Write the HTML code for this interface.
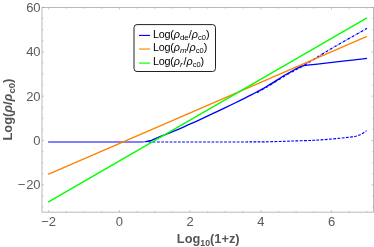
<!DOCTYPE html>
<html><head><meta charset="utf-8"><title>plot</title>
<style>
html,body{margin:0;padding:0;background:#fff;}
body{width:374px;height:247px;overflow:hidden;}
svg{display:block;will-change:transform;font-family:"Liberation Sans",sans-serif;}
</style></head><body>
<svg width="374" height="247" viewBox="0 0 374 247">
<rect width="374" height="247" fill="#fff"/>
<g>
<path d="M148.50 142.00C151.25 142.00 159.75 142.00 165.00 142.00C170.25 142.00 175.00 142.00 180.00 142.00C185.00 142.00 190.00 142.00 195.00 142.00C200.00 142.00 205.00 142.00 210.00 142.00C215.00 142.00 220.00 142.00 225.00 142.00C230.00 142.00 235.33 141.98 240.00 141.97C244.67 141.96 248.83 141.95 253.00 141.93C257.17 141.91 260.50 141.93 265.00 141.85C269.50 141.77 275.17 141.60 280.00 141.45C284.83 141.30 289.00 141.12 294.00 140.95C299.00 140.78 305.67 140.62 310.00 140.45C314.33 140.28 315.00 140.32 320.00 139.95C325.00 139.57 334.67 138.71 340.00 138.20C345.33 137.69 349.33 137.23 352.00 136.90C354.67 136.57 354.75 136.52 356.00 136.20C357.25 135.88 358.33 135.50 359.50 135.00C360.67 134.50 361.82 133.93 363.00 133.20C364.18 132.47 366.00 131.03 366.60 130.60" stroke="#0000ff" stroke-width="1.15" fill="none" stroke-dasharray="2.8 1.4"/>
<path d="M257.00 92.60C258.73 91.62 262.73 89.50 267.40 86.70C272.07 83.90 280.23 78.63 285.00 75.80C289.77 72.97 293.17 71.25 296.00 69.70C298.83 68.15 298.95 68.28 302.00 66.50C305.05 64.72 308.80 62.33 314.30 59.00C319.80 55.67 326.22 51.60 335.00 46.50C343.78 41.40 361.67 31.42 367.00 28.40" stroke="#0000ff" stroke-width="1.25" fill="none" stroke-dasharray="2.7 0.9 0.5 0.9"/>
<path d="M48.10 142.00L139.00 142.00L142.00 141.95L145.00 141.75L147.20 141.42" stroke="#0000ff" stroke-width="1.15" fill="none"/>
<path d="M146.50 141.55C146.75 141.50 147.42 141.38 148.00 141.25C148.58 141.12 149.33 140.95 150.00 140.75C150.67 140.55 151.00 140.44 152.00 140.05C153.00 139.66 154.67 138.96 156.00 138.40C157.33 137.84 158.33 137.38 160.00 136.70C161.67 136.02 163.50 135.30 166.00 134.30C168.50 133.30 171.50 132.18 175.00 130.70C178.50 129.22 182.83 127.25 187.00 125.40C191.17 123.55 195.00 121.90 200.00 119.60C205.00 117.30 211.17 114.37 217.00 111.60C222.83 108.83 229.30 105.78 235.00 103.00C240.70 100.22 245.80 97.73 251.20 94.90C256.60 92.07 261.77 89.32 267.40 86.00C273.03 82.68 280.23 77.85 285.00 75.00C289.77 72.15 293.20 70.40 296.00 68.90C298.80 67.40 300.83 66.48 301.80 66.00L301.80 66.00C302.17 65.92 303.13 65.68 304.00 65.55C304.87 65.42 304.77 65.44 307.00 65.20C309.23 64.96 313.57 64.53 317.40 64.10C321.23 63.67 325.40 63.13 330.00 62.60C334.60 62.07 338.83 61.60 345.00 60.90C351.17 60.20 363.33 58.82 367.00 58.40" stroke="#0000ff" stroke-width="1.35" fill="none" stroke-linejoin="round"/>
<path d="M48.10 174.49L367.00 36.34" stroke="#ff8000" stroke-width="1.35" fill="none"/>
<path d="M48.10 202.10L367.00 17.90" stroke="#00ff00" stroke-width="1.35" fill="none"/>
</g>
<!-- frame -->
<rect x="42.0" y="7.5" width="331.5" height="204.65" fill="none" stroke="#a8a8a8" stroke-width="0.8"/>
<path d="M48.70 212.15v-2.0M48.70 7.5v2.0M66.38 212.15v-1.2M66.38 7.5v1.2M84.05 212.15v-1.2M84.05 7.5v1.2M101.73 212.15v-1.2M101.73 7.5v1.2M119.40 212.15v-2.0M119.40 7.5v2.0M137.08 212.15v-1.2M137.08 7.5v1.2M154.75 212.15v-1.2M154.75 7.5v1.2M172.43 212.15v-1.2M172.43 7.5v1.2M190.10 212.15v-2.0M190.10 7.5v2.0M207.78 212.15v-1.2M207.78 7.5v1.2M225.45 212.15v-1.2M225.45 7.5v1.2M243.12 212.15v-1.2M243.12 7.5v1.2M260.80 212.15v-2.0M260.80 7.5v2.0M278.48 212.15v-1.2M278.48 7.5v1.2M296.15 212.15v-1.2M296.15 7.5v1.2M313.83 212.15v-1.2M313.83 7.5v1.2M331.50 212.15v-2.0M331.50 7.5v2.0M349.18 212.15v-1.2M349.18 7.5v1.2M366.85 212.15v-1.2M366.85 7.5v1.2M42.0 207.01h1.2M373.5 207.01h-1.2M42.0 195.93h1.2M373.5 195.93h-1.2M42.0 184.84h2.0M373.5 184.84h-2.0M42.0 173.75h1.2M373.5 173.75h-1.2M42.0 162.67h1.2M373.5 162.67h-1.2M42.0 151.59h1.2M373.5 151.59h-1.2M42.0 140.50h2.0M373.5 140.50h-2.0M42.0 129.41h1.2M373.5 129.41h-1.2M42.0 118.33h1.2M373.5 118.33h-1.2M42.0 107.25h1.2M373.5 107.25h-1.2M42.0 96.16h2.0M373.5 96.16h-2.0M42.0 85.07h1.2M373.5 85.07h-1.2M42.0 73.99h1.2M373.5 73.99h-1.2M42.0 62.91h1.2M373.5 62.91h-1.2M42.0 51.82h2.0M373.5 51.82h-2.0M42.0 40.73h1.2M373.5 40.73h-1.2M42.0 29.65h1.2M373.5 29.65h-1.2M42.0 18.56h1.2M373.5 18.56h-1.2M42.0 7.48h2.0M373.5 7.48h-2.0" stroke="#a0a0a0" stroke-width="0.6" fill="none"/>
<g font-size="13.0" fill="#5a5a5a"><text x="48.70" y="225.6" text-anchor="middle">−2</text><text x="119.40" y="225.6" text-anchor="middle">0</text><text x="190.10" y="225.6" text-anchor="middle">2</text><text x="260.80" y="225.6" text-anchor="middle">4</text><text x="331.50" y="225.6" text-anchor="middle">6</text><text x="40.6" y="189.34" text-anchor="end">−<tspan dx="0.9">20</tspan></text><text x="40.6" y="145.00" text-anchor="end">0</text><text x="40.6" y="100.66" text-anchor="end">20</text><text x="40.6" y="56.32" text-anchor="end">40</text><text x="40.6" y="11.98" text-anchor="end">60</text></g>
<!-- axis labels -->
<text x="208.2" y="243.3" text-anchor="middle" font-size="12.8" font-weight="bold" fill="#555">Log<tspan font-size="8.8" dy="2.2">10</tspan><tspan dy="-2.2">(1+z)</tspan></text>
<text transform="translate(12.4 109.6) rotate(-90)" text-anchor="middle" font-size="12.85" font-weight="bold" fill="#555">Log(<tspan font-style="italic">ρ</tspan>/<tspan font-style="italic">ρ</tspan><tspan font-size="9.6" dy="2.6">c0</tspan><tspan dy="-2.6">)</tspan></text>
<!-- legend -->
<rect x="134.0" y="24.6" width="81.5" height="46.9" rx="3" ry="3" fill="#fff" stroke="#222" stroke-width="1"/>
<g stroke-width="1.15">
<path d="M139 35.45h11" stroke="#0000ff"/>
<path d="M139 49.05h11" stroke="#ff8000"/>
<path d="M139 63.1h11" stroke="#00ff00"/>
</g>
<g font-size="10.8" fill="#000">
<text x="153.0" y="38.1"><tspan letter-spacing="-0.3">Log</tspan>(<tspan font-style="italic">ρ</tspan><tspan font-size="8" dy="2">de</tspan><tspan dy="-2">/</tspan><tspan font-style="italic">ρ</tspan><tspan font-size="7.5" dy="2">c0</tspan><tspan dy="-2">)</tspan></text>
<text x="153.0" y="51.3"><tspan letter-spacing="-0.3">Log</tspan>(<tspan font-style="italic">ρ</tspan><tspan font-size="8" dy="2" font-style="italic">m</tspan><tspan dy="-2">/</tspan><tspan font-style="italic">ρ</tspan><tspan font-size="7.5" dy="2">c0</tspan><tspan dy="-2">)</tspan></text>
<text x="153.0" y="65.4"><tspan letter-spacing="-0.3">Log</tspan>(<tspan font-style="italic">ρ</tspan><tspan font-size="8" dy="2" font-style="italic">r</tspan><tspan dy="-2" dx="0.9">/</tspan><tspan font-style="italic">ρ</tspan><tspan font-size="7.5" dy="2">c0</tspan><tspan dy="-2">)</tspan></text>
</g>
</svg>
</body></html>
